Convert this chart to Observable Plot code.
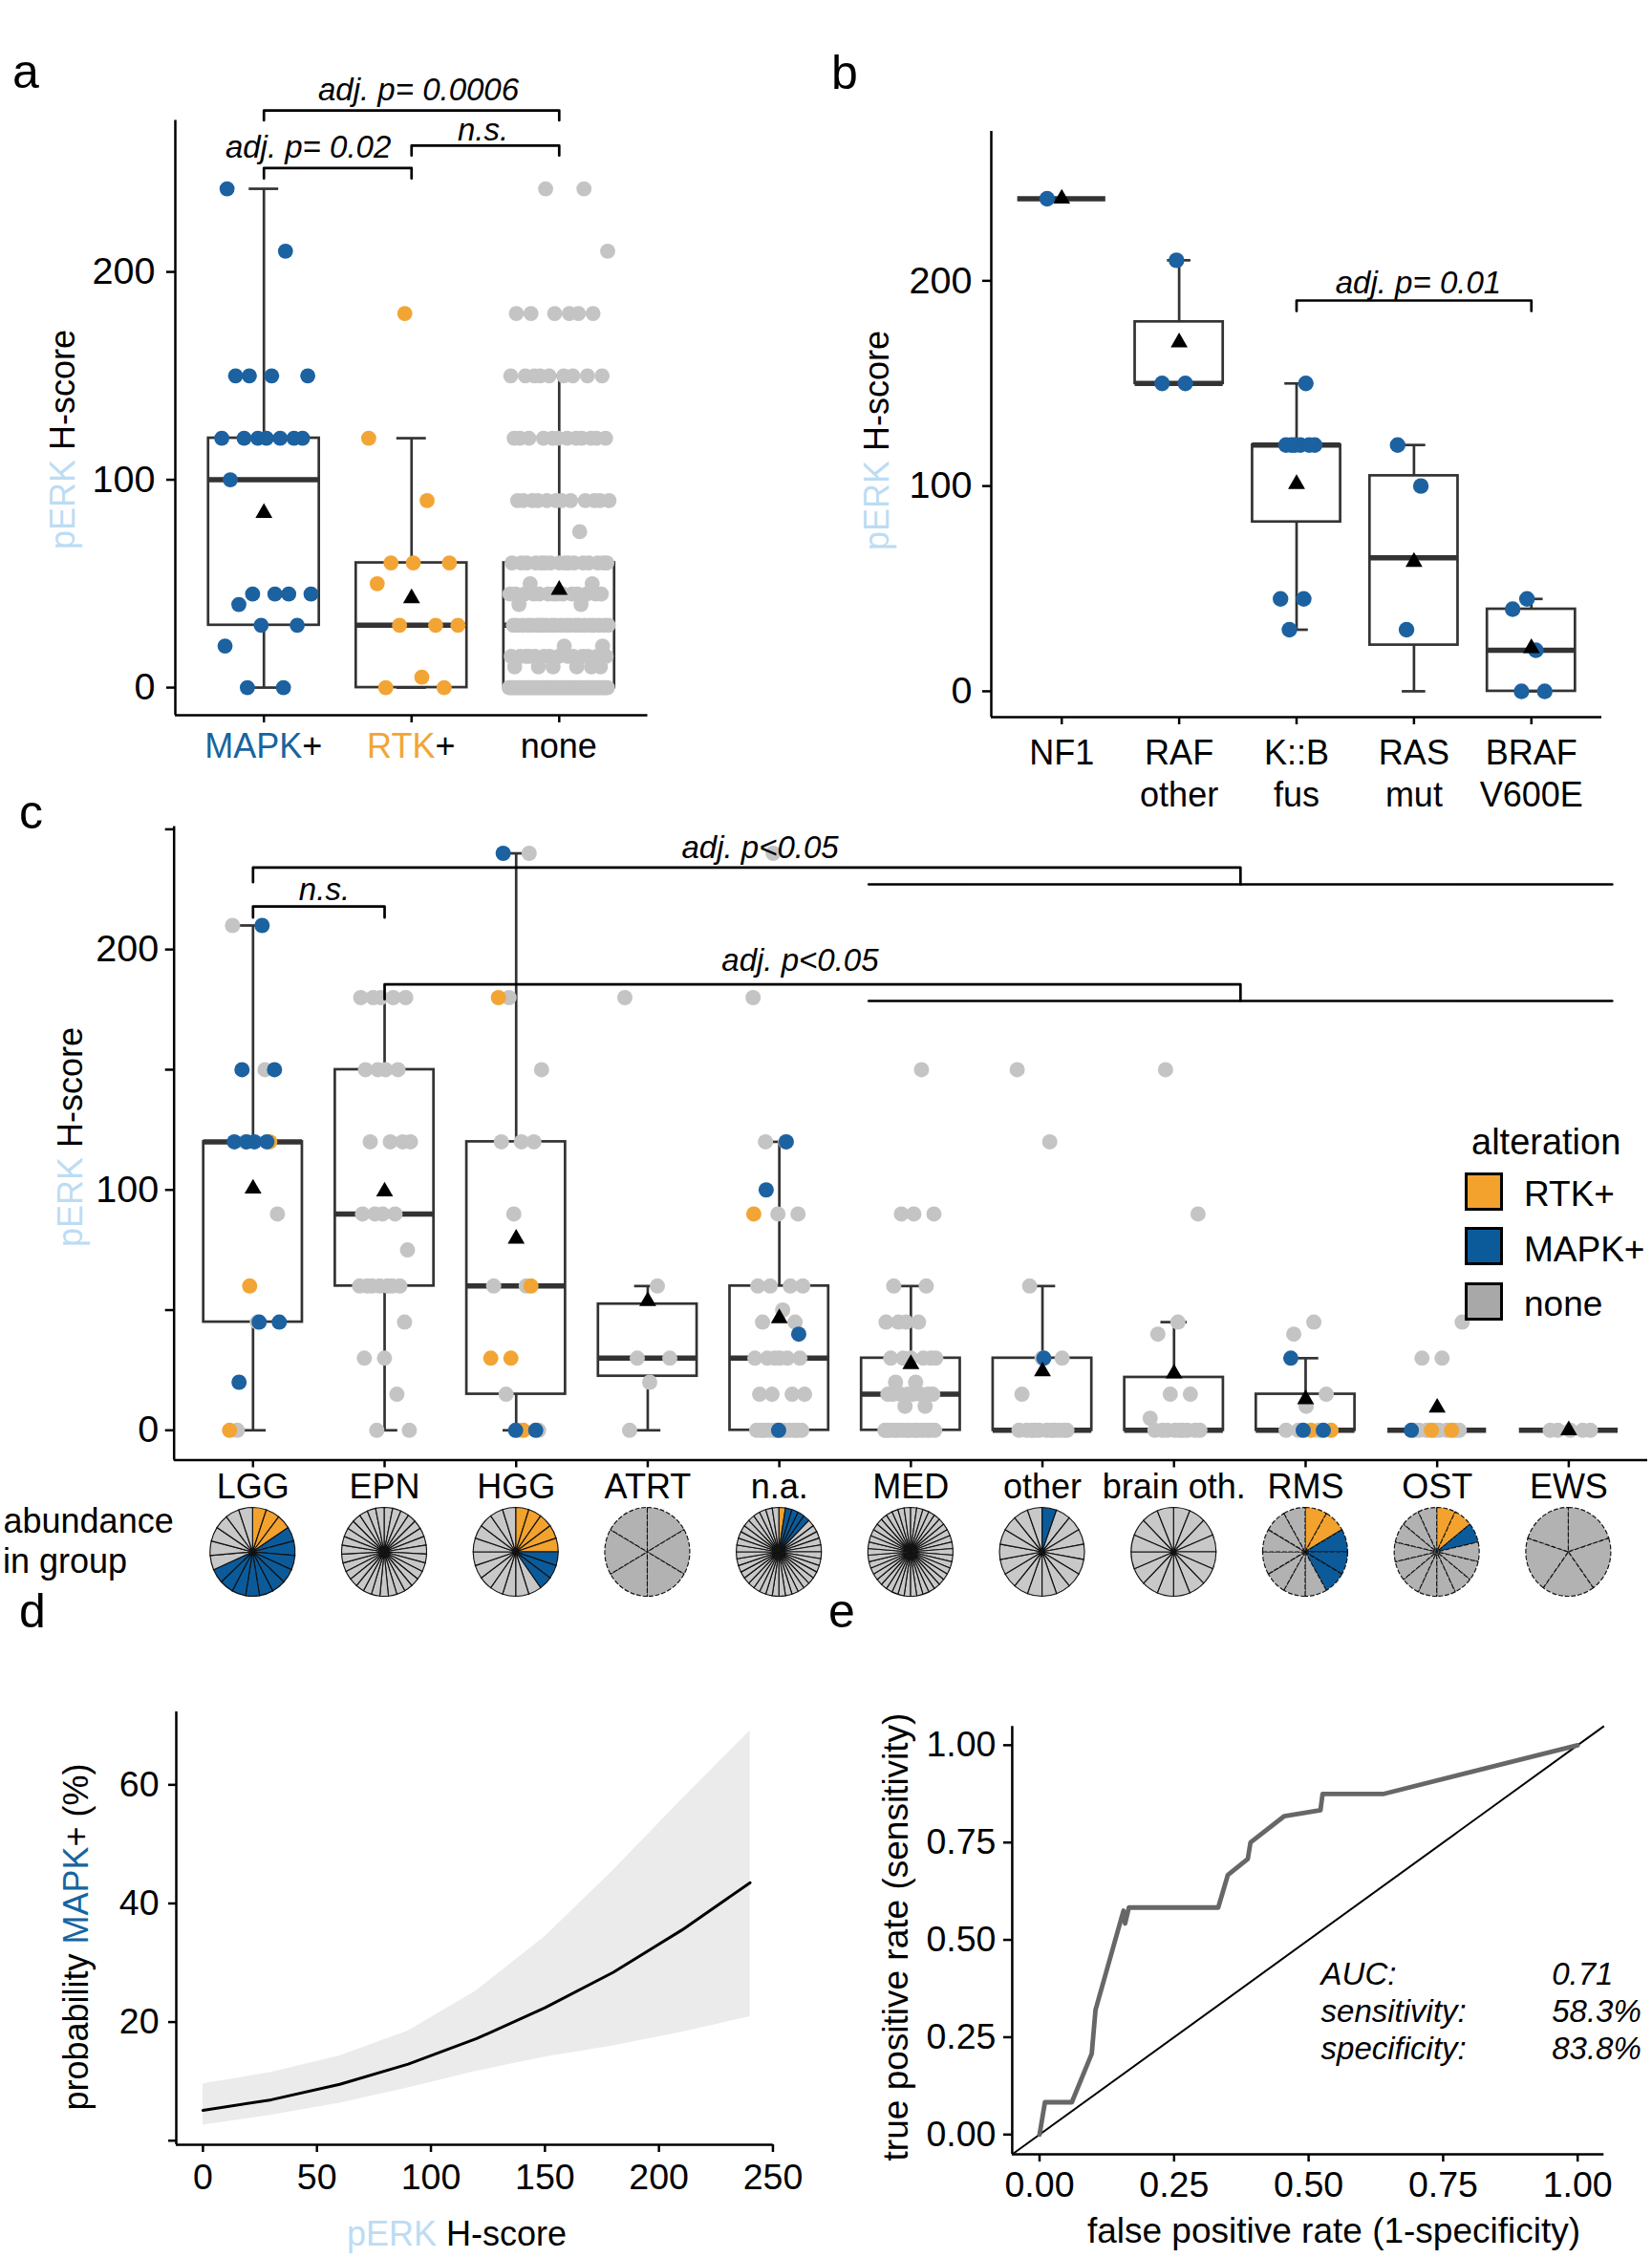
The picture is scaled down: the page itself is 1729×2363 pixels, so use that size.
<!DOCTYPE html>
<html>
<head>
<meta charset="utf-8">
<script src="https://cdn.jsdelivr.net/npm/d3@7"></script>
<script src="https://cdn.jsdelivr.net/npm/@observablehq/plot@0.6"></script>
<style>
html,body{margin:0;padding:0;background:#fff;}
#fig{position:relative;width:1729px;height:2363px;background:#fff;overflow:hidden;}
</style>
</head>
<body>
<div id="fig"></div>
<script>
// ================= DATA =================
// Panel a
const aCats = ["MAPK+", "RTK+", "none"];
const aMapk = [240,210,150,150,150,150,120,120,120,120,120,120,120,100,45,45,45,45,40,30,30,20,0,0];
const aRtk = [180,120,90,60,60,60,50,30,30,30,5,0,0];
const aNoneValues = [240,210,180,150,120,90,75,60,50,45,40,30,20,15,10,0];
const aNoneCounts = [2,1,6,9,12,12,1,16,2,14,2,22,2,14,6,55];
const aQ1 = [30,0,0], aMedian = [100,30,30], aQ3 = [120,60,60], aLow = [0,0,0], aHigh = [240,120,150], aMean = [84,43,47];
const aTestPairs = [[0,1],[1,2],[0,2]];
const aTestLabels = ["adj. p= 0.02","n.s.","adj. p= 0.0006"];

// Panel b
const bCats = ["NF1","RAF\nother","K::B\nfus","RAS\nmut","BRAF\nV600E"];
const bValues = [[240],[210,150,150],[150,120,120,120,120,120,120,45,45,30],[120,100,30],[45,40,20,0,0]];
const bQ1 = [240,150,82.5,22.5,0], bMedian = [240,150,120,65,20], bQ3 = [240,180,120,105,40];
const bLow = [240,150,30,0,0], bHigh = [240,210,150,120,45], bMean = [240,170,101,63,21];
const bTestPairs = [[2,4]];
const bTestLabels = ["adj. p= 0.01"];

// Panel c
const cCats = ["LGG","EPN","HGG","ATRT","n.a.","MED","other","brain oth.","RMS","OST","EWS"];
const cRtk = [[120,60,0],[],[180,60,30,30,0],[],[90],[],[],[],[0,0],[0,0],[]];
const cMapk = [[210,150,150,120,120,120,120,45,45,20],[],[240,0,0],[],[120,100,40,0],[],[30],[],[30,0,0],[0],[]];
const cNone = [
  [210,150,120,90,45,0],
  [180,180,180,180,180,150,150,150,150,120,120,120,120,90,90,90,90,75,60,60,60,60,60,60,60,45,30,30,15,0,0],
  [240,180,150,120,120,120,90,60,60,15,0,0],
  [180,60,30,30,20,0],
  [240,180,120,120,90,90,60,60,60,60,50,45,45,30,30,30,30,30,30,15,15,15,15,0,0,0,0,0,0,0,0,0,0,0,0],
  [150,90,90,90,60,60,45,45,45,45,30,30,30,30,30,30,20,20,15,15,15,15,15,15,15,15,10,10,0,0,0,0,0,0,0,0,0,0,0,0,0,0],
  [150,120,60,30,30,15,0,0,0,0,0,0,0,0,0,0,0],
  [150,90,45,40,15,15,5,0,0,0,0,0,0,0,0,0],
  [45,40,15,10,0,0,0],
  [45,30,30,0,0,0,0,0,0,0,0],
  [0,0,0,0,0]
];
const cQ1 = [45,60,15,22.5,0,0,0,0,0,0,0];
const cMedian = [120,90,60,30,30,15,0,0,0,0,0];
const cQ3 = [120,150,120,52.5,60,30,30,22,15,0,0];
const cLow = [0,0,0,0,0,0,0,0,0,0,0];
const cHigh = [210,180,240,60,120,60,60,45,30,0,0];
const cMean = [100.5,99.3,79.7,53.7,46.6,27.5,24.5,23.6,12.9,9.4,0];
const cGroupTests = [{from:0, gFrom:5, gTo:10}, {from:1, gFrom:5, gTo:10}];
const cPairTests = [{from:0, to:1}];
const cTestLabels = ["adj. p<0.05","adj. p<0.05","n.s."];
const cDarkPies = ["ATRT","RMS","OST","EWS"];
const legendKeys = ["RTK+","MAPK+","none"];

// Panel d
const dScore = [0,30,60,90,120,150,180,210,240];
const dProb  = [5.1,6.9,9.5,12.9,17.2,22.4,28.4,35.5,43.5];
const dLower = [2.6,4.3,6.3,8.9,11.7,14.1,16.0,18.3,20.9];
const dUpper = [9.6,11.5,14.3,18.5,25.3,34.4,45.6,57.5,69.1];

// Panel e
const eFpr = [0,0.01,0.06,0.097,0.104,0.156,0.159,0.166,0.332,0.35,0.387,0.392,0.455,0.522,0.526,0.64,1];
const eTpr = [0,0.083,0.083,0.208,0.32,0.575,0.542,0.583,0.583,0.667,0.708,0.75,0.818,0.833,0.875,0.875,1];
const eStatLabels = ["AUC:","sensitivity:","specificity:"];
const eStatValues = ["0.71","58.3%","83.8%"];

// ================= STYLE =================
const FONT = '"Liberation Sans", Arial, Helvetica, sans-serif';
const BLUE_PT = "#1c61a0", ORANGE_PT = "#f2a534", GRAY_PT = "#c4c4c4";
const BLUE = "#0b5b9b", ORANGE = "#f2a22d";
const PIE_GRAY = "#c8c8c8", PIE_GRAY_DARK = "#b2b2b2", LEGEND_GRAY = "#a8a8a8";
const PERK = "#bcdcf3", LBL_BLUE = "#17649f", LBL_ORANGE = "#f2a535";
const BOX = "#333333";
const PT_COLOR = {"none": GRAY_PT, "RTK+": ORANGE_PT, "MAPK+": BLUE_PT};
const AX = 2.5;
const plotStyle = {fontFamily: FONT, color: "black", background: "transparent", overflow: "visible", maxWidth: "none"};

const fig = document.getElementById("fig");
function place(node, left, top) {
  node.style.position = "absolute"; node.style.left = left + "px"; node.style.top = top + "px";
  fig.appendChild(node); return node;
}
// deterministic (non-random) horizontal spread for overlapping points
function spread(k, g, w) { const f = (k * 0.6180339887 + g * 0.3183 + 0.11) % 1; return (2 * f - 1) * w; }

function addText(svg, x, y, parts, o = {}) {
  const t = d3.select(svg).append("text")
    .attr("transform", `translate(${x},${y})` + (o.rotate ? ` rotate(${o.rotate})` : ""))
    .attr("text-anchor", o.anchor || "middle")
    .attr("font-family", FONT).attr("font-size", o.size || 36)
    .attr("font-style", o.italic ? "italic" : null)
    .style("white-space", "pre");
  parts.forEach(([s, c]) => t.append("tspan").attr("fill", c || "black").text(s));
  return t;
}

function boxMarks(box, halfW, capW) {
  return [
    Plot.ruleX(box, {x: "i", y1: "q3", y2: "hi", stroke: BOX, strokeWidth: 2.7}),
    Plot.ruleX(box, {x: "i", y1: "lo", y2: "q1", stroke: BOX, strokeWidth: 2.7}),
    Plot.ruleY(box, {y: "hi", x1: d => d.i - capW, x2: d => d.i + capW, stroke: BOX, strokeWidth: 2.7}),
    Plot.ruleY(box, {y: "lo", x1: d => d.i - capW, x2: d => d.i + capW, stroke: BOX, strokeWidth: 2.7}),
    Plot.rect(box, {x1: d => d.i - halfW, x2: d => d.i + halfW, y1: "q1", y2: "q3", fill: "white", stroke: BOX, strokeWidth: 2.7}),
    Plot.ruleY(box, {y: "med", x1: d => d.i - halfW, x2: d => d.i + halfW, stroke: BOX, strokeWidth: 5.5})
  ];
}
function dotMarks(pts, r) {
  return ["none", "RTK+", "MAPK+"].map(alt =>
    Plot.dot(pts.filter(p => p.alt === alt), {x: "x", y: "v", r, fill: PT_COLOR[alt], stroke: null}));
}
function meanMark(box) {
  return Plot.dot(box, {x: "i", y: "mean", symbol: "triangle", r: 6.6, fill: "black", stroke: null});
}
function makeBox(n, q1, med, q3, lo, hi, mean) {
  return d3.range(n).map(i => ({i, q1: q1[i], med: med[i], q3: q3[i], lo: lo[i], hi: hi[i], mean: mean[i]}));
}

// ================= PANEL A =================
{
  const yDom = [-13.3, 272.9], xDom = [-0.6, 2.6];
  const box = makeBox(3, aQ1, aMedian, aQ3, aLow, aHigh, aMean);
  const pts = [];
  aMapk.forEach((v, k) => pts.push({v, alt: "MAPK+", x: 0 + spread(k, 0, 0.32)}));
  aRtk.forEach((v, k) => pts.push({v, alt: "RTK+", x: 1 + spread(k, 1, 0.32)}));
  let k = 0;
  aNoneValues.forEach((v, j) => { for (let c = 0; c < aNoneCounts[j]; c++) pts.push({v, alt: "none", x: 2 + spread(k++, 2, 0.34)}); });
  const lay = {top: [250, 260.8, 277.7], leg: [245, 256, 272.9], tx: [0.3, 1.484, 1.047], ty: [255, 263.2, 282.5]};
  const br = aTestPairs.flatMap(([f, t], j) => [
    {x: f, y: lay.leg[j], id: j}, {x: f, y: lay.top[j], id: j}, {x: t, y: lay.top[j], id: j}, {x: t, y: lay.leg[j], id: j}]);
  const svg = Plot.plot({
    width: 700, height: 840, marginLeft: 183, marginRight: 22.5, marginTop: 125.5, marginBottom: 92,
    style: plotStyle,
    x: {domain: xDom}, y: {domain: yDom},
    marks: [
      ...boxMarks(box, 0.375, 0.1),
      ...dotMarks(pts, 7.9),
      meanMark(box),
      Plot.line(br, {x: "x", y: "y", z: "id", stroke: "black", strokeWidth: 2.7}),
      Plot.text(aTestLabels, {x: (d, j) => lay.tx[j], y: (d, j) => lay.ty[j], text: d => d, fontSize: 33, fontStyle: "italic", lineAnchor: "bottom", fill: "black"}),
      Plot.ruleX([xDom[0]], {stroke: "black", strokeWidth: AX}),
      Plot.ruleY([yDom[0]], {stroke: "black", strokeWidth: AX}),
      Plot.axisY({ticks: [0, 100, 200], tickSize: 9, tickPadding: 12, fontSize: 39.5, strokeWidth: AX, label: null}),
      Plot.axisX({ticks: [0, 1, 2], tickFormat: () => "", tickSize: 8, strokeWidth: AX, label: null})
    ]
  });
  place(svg, 0, 0);
  const sx = svg.scale("x");
  const tickCols = [LBL_BLUE, LBL_ORANGE, "black"];
  aCats.forEach((c, i) => {
    const base = c.endsWith("+") ? c.slice(0, -1) : c;
    const parts = c.endsWith("+") ? [[base, tickCols[i]], ["+", "black"]] : [[c, "black"]];
    addText(svg, sx.apply(i), 793, parts, {size: 36});
  });
  addText(svg, 78, 460, [["pERK", PERK], [" H-score", "black"]], {rotate: -90, size: 36});
}

// ================= PANEL B =================
{
  const yDom = [-12.6, 272.8], xDom = [-0.6, 4.6];
  const box = makeBox(5, bQ1, bMedian, bQ3, bLow, bHigh, bMean);
  const pts = [];
  bValues.forEach((vals, g) => vals.forEach((v, k) => pts.push({v, alt: "MAPK+", x: g + spread(k, g, 0.16)})));
  const lay = {top: [190.4], leg: [185.3], tx: [3.037], ty: [193.7]};
  const br = bTestPairs.flatMap(([f, t], j) => [
    {x: f, y: lay.leg[j], id: j}, {x: f, y: lay.top[j], id: j}, {x: t, y: lay.top[j], id: j}, {x: t, y: lay.leg[j], id: j}]);
  const svg = Plot.plot({
    width: 869, height: 860, marginLeft: 177, marginRight: 53, marginTop: 137, marginBottom: 110,
    style: plotStyle,
    x: {domain: xDom}, y: {domain: yDom},
    marks: [
      ...boxMarks(box, 0.375, 0.1),
      ...dotMarks(pts, 8.2),
      meanMark(box),
      Plot.line(br, {x: "x", y: "y", z: "id", stroke: "black", strokeWidth: 2.7}),
      Plot.text(bTestLabels, {x: (d, j) => lay.tx[j], y: (d, j) => lay.ty[j], text: d => d, fontSize: 33, fontStyle: "italic", lineAnchor: "bottom", fill: "black"}),
      Plot.ruleX([xDom[0]], {stroke: "black", strokeWidth: AX}),
      Plot.ruleY([yDom[0]], {stroke: "black", strokeWidth: AX}),
      Plot.axisY({ticks: [0, 100, 200], tickSize: 9, tickPadding: 11, fontSize: 39.5, strokeWidth: AX, label: null}),
      Plot.axisX({ticks: [0, 1, 2, 3, 4], tickFormat: () => "", tickSize: 8, strokeWidth: AX, label: null}),
      Plot.text(bCats, {x: (d, i) => i, frameAnchor: "bottom", text: d => d, lineAnchor: "top", dy: 18, fontSize: 36, lineHeight: 1.22, fill: "black"})
    ]
  });
  place(svg, 860, 0);
  addText(svg, 70, 461, [["pERK", PERK], [" H-score", "black"]], {rotate: -90, size: 36});
}

// ================= PANEL C =================
{
  const yDom = [-12.4, 251.1], xDom = [-0.6, 10.6];
  const box = makeBox(11, cQ1, cMedian, cQ3, cLow, cHigh, cMean);
  const pts = [];
  cCats.forEach((c, g) => {
    let k = 0;
    cNone[g].forEach(v => pts.push({v, alt: "none", x: g + spread(k++, g, 0.2)}));
    cRtk[g].forEach(v => pts.push({v, alt: "RTK+", x: g + spread(k++, g, 0.2)}));
    cMapk[g].forEach(v => pts.push({v, alt: "MAPK+", x: g + spread(k++, g, 0.2)}));
  });
  const gLay = [{leg: 228.0, top: 234.1, low: 227.1}, {leg: 179.3, top: 185.5, low: 178.6}];
  const pLay = [{leg: 213.3, top: 217.9}];
  const tLay = [[3.854, 238.2], [4.158, 191.3], [0.542, 220.4]];
  const br = [];
  let id = 0;
  cGroupTests.forEach((t, j) => {
    const a = t.gFrom - 0.32, b = t.gTo + 0.33, join = (a + b) / 2, L = gLay[j];
    br.push({x: t.from, y: L.leg, id}, {x: t.from, y: L.top, id}, {x: join, y: L.top, id}, {x: join, y: L.low, id}); id++;
    br.push({x: a, y: L.low, id}, {x: b, y: L.low, id}); id++;
  });
  cPairTests.forEach((t, j) => {
    const L = pLay[j];
    br.push({x: t.from, y: L.leg, id}, {x: t.from, y: L.top, id}, {x: t.to, y: L.top, id}, {x: t.to, y: L.leg, id}); id++;
  });
  const svg = Plot.plot({
    width: 1729, height: 860, marginLeft: 181.7, marginRight: 5, marginTop: 24.6, marginBottom: 172.5,
    style: plotStyle,
    x: {domain: xDom}, y: {domain: yDom},
    marks: [
      ...boxMarks(box, 0.375, 0.1),
      ...dotMarks(pts, 8),
      meanMark(box),
      Plot.line(br, {x: "x", y: "y", z: "id", stroke: "black", strokeWidth: 2.7}),
      Plot.text(cTestLabels, {x: (d, j) => tLay[j][0], y: (d, j) => tLay[j][1], text: d => d, fontSize: 33, fontStyle: "italic", lineAnchor: "bottom", fill: "black"}),
      Plot.ruleX([xDom[0]], {stroke: "black", strokeWidth: AX}),
      Plot.ruleY([yDom[0]], {stroke: "black", strokeWidth: AX}),
      Plot.axisY({ticks: [0, 50, 100, 150, 200, 250], tickFormat: d => d % 100 === 0 ? String(d) : "", tickSize: 9, tickPadding: 7, fontSize: 39.5, strokeWidth: AX, label: null}),
      Plot.axisX({ticks: d3.range(11), tickFormat: i => cCats[i], tickSize: 8, tickPadding: 6.5, fontSize: 36, strokeWidth: AX, label: null})
    ]
  });
  place(svg, 0, 840);
  addText(svg, 86, 350, [["pERK", PERK], [" H-score", "black"]], {rotate: -90, size: 36});
  // abundance pies
  const sx = svg.scale("x");
  const PIE_CY = 784, RY = 46.5, RX = 44.5;
  const pie = d3.pie().value(() => 1).sort(null);
  const arc = d3.arc().innerRadius(0).outerRadius(RY);
  const pg = d3.select(svg).append("g");
  cCats.forEach((c, i) => {
    const slices = [...cRtk[i].map(() => "RTK+"), ...cMapk[i].map(() => "MAPK+"), ...cNone[i].map(() => "none")];
    const dark = cDarkPies.includes(c);
    const g = pg.append("g").attr("transform", `translate(${sx.apply(i)},${PIE_CY}) scale(${RX / RY},1)`);
    g.selectAll("path").data(pie(slices)).join("path")
      .attr("d", arc)
      .attr("fill", d => d.data === "RTK+" ? ORANGE : d.data === "MAPK+" ? BLUE : (dark ? PIE_GRAY_DARK : PIE_GRAY))
      .attr("stroke", "#111").attr("stroke-width", 1.2)
      .attr("stroke-dasharray", dark ? "5,2" : null);
  });
}

// ================= PANEL D =================
{
  const yDom = [-0.69, 72.3], xDom = [-11.7, 250.1];
  const rows = dScore.map((x, i) => ({x, p: dProb[i], lo: dLower[i], hi: dUpper[i]}));
  const svg = Plot.plot({
    width: 870, height: 683, marginLeft: 184, marginRight: 61.3, marginTop: 111, marginBottom: 119,
    style: plotStyle,
    x: {domain: xDom}, y: {domain: yDom},
    marks: [
      Plot.areaY(rows, {x: "x", y1: "lo", y2: "hi", fill: "#ebebeb"}),
      Plot.line(rows, {x: "x", y: "p", stroke: "black", strokeWidth: 3}),
      Plot.ruleX([xDom[0]], {stroke: "black", strokeWidth: AX}),
      Plot.ruleY([yDom[0]], {stroke: "black", strokeWidth: AX}),
      Plot.axisY({ticks: [0, 20, 40, 60], tickFormat: d => d === 0 ? "" : String(d), tickSize: 8, tickPadding: 10, fontSize: 37.5, strokeWidth: AX, label: null}),
      Plot.axisX({ticks: [0, 50, 100, 150, 200, 250], tickSize: 8, tickPadding: 12, fontSize: 37.5, strokeWidth: AX, label: null})
    ]
  });
  place(svg, 0, 1680);
  addText(svg, 92, 347, [["probability ", "black"], ["MAPK", LBL_BLUE], ["+ (%)", "black"]], {rotate: -90, size: 36});
  addText(svg, 478, 670, [["pERK", PERK], [" H-score", "black"]], {size: 36});
}

// ================= PANEL E =================
{
  const xDom = [-0.0508, 1.049], yDom = [-0.051, 1.048];
  const roc = eFpr.map((f, i) => ({f, t: eTpr[i]}));
  const fmt = d3.format(".2f");
  const svg = Plot.plot({
    width: 859, height: 683, marginLeft: 188.9, marginRight: 50.7, marginTop: 126.3, marginBottom: 108.9,
    style: plotStyle,
    x: {domain: xDom}, y: {domain: yDom},
    marks: [
      Plot.link([0], {x1: xDom[0], y1: xDom[0], x2: xDom[1], y2: xDom[1], stroke: "black", strokeWidth: 2}),
      Plot.line(roc, {x: "f", y: "t", stroke: "#676767", strokeWidth: 4.8, strokeLinejoin: "round"}),
      Plot.text(eStatLabels, {x: 0.523, y: (d, i) => 0.386 - i * 0.096, text: d => d, textAnchor: "start", lineAnchor: "bottom", fontSize: 33, fontStyle: "italic", fill: "black"}),
      Plot.text(eStatValues, {x: 0.952, y: (d, i) => 0.386 - i * 0.096, text: d => d, textAnchor: "start", lineAnchor: "bottom", fontSize: 33, fontStyle: "italic", fill: "black"}),
      Plot.ruleX([xDom[0]], {stroke: "black", strokeWidth: AX}),
      Plot.ruleY([yDom[0]], {stroke: "black", strokeWidth: AX}),
      Plot.axisY({ticks: [0, 0.25, 0.5, 0.75, 1], tickFormat: fmt, tickSize: 9, tickPadding: 8, fontSize: 37.5, strokeWidth: AX, label: null}),
      Plot.axisX({ticks: [0, 0.25, 0.5, 0.75, 1], tickFormat: fmt, tickSize: 8, tickPadding: 10, fontSize: 37.5, strokeWidth: AX, label: null})
    ]
  });
  place(svg, 870, 1680);
  addText(svg, 80, 347, [["true positive rate (sensitivity)", "black"]], {rotate: -90, size: 37});
  addText(svg, 526, 667, [["false positive rate (1-specificity)", "black"]], {size: 37});
}

// ================= OVERLAY: panel letters, pie caption, legend =================
{
  const ov = d3.create("svg").attr("width", 1729).attr("height", 2363)
    .style("position", "absolute").style("left", "0px").style("top", "0px").style("pointer-events", "none");
  const node = ov.node();
  [["a", 13, 92], ["b", 870, 93], ["c", 20, 867], ["d", 20, 1703], ["e", 867, 1703]].forEach(([t, x, y]) =>
    addText(node, x, y, [[t, "black"]], {anchor: "start", size: 50}));
  addText(node, 3.5, 1604, [["abundance", "black"]], {anchor: "start", size: 36});
  addText(node, 3, 1646, [["in group", "black"]], {anchor: "start", size: 36});
  addText(node, 1540, 1208, [["alteration", "black"]], {anchor: "start", size: 38});
  const sw = {"RTK+": ORANGE, "MAPK+": BLUE, "none": LEGEND_GRAY};
  const sy = [1227, 1284, 1342], ly = [1262, 1320, 1377];
  legendKeys.forEach((k, i) => {
    ov.append("rect").attr("x", 1534.5).attr("y", sy[i] + 1.5).attr("width", 37).attr("height", 37)
      .attr("fill", sw[k]).attr("stroke", "black").attr("stroke-width", 3);
    addText(node, 1595, ly[i], [[k, "black"]], {anchor: "start", size: 37});
  });
  fig.appendChild(node);
}
</script>
</body>
</html>
